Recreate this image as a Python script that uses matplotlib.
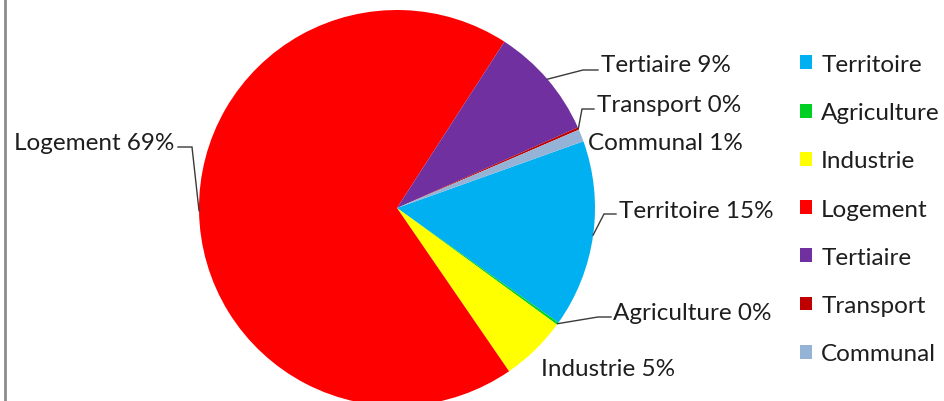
import numpy as np
import matplotlib
matplotlib.use("Agg")
import matplotlib.pyplot as plt
from matplotlib.patches import Patch
from matplotlib.lines import Line2D

categories = ["Territoire", "Agriculture", "Industrie", "Logement", "Tertiaire", "Transport", "Communal"]
values = [15.3, 0.2, 5.4, 68.7, 9.2, 0.2, 1.0]
colors = ["#00B0F0", "#00D024", "#FFFF00", "#FF0000", "#7030A0", "#C00000", "#95B3D7"]

plt.rcParams['font.family'] = ['Lato', 'DejaVu Sans']
FS = 17.5

W, H = 944, 402
fig = plt.figure(figsize=(W / 100, H / 100), dpi=100)
CX, CY, R = 397, 209, 198
ax = fig.add_axes([(CX - R) / W, (H - CY - R) / H, 2 * R / W, 2 * R / H])
ax.set_xlim(-1, 1)
ax.set_ylim(-1, 1)
ax.set_aspect('equal')
ax.axis('off')

START = 19.7
wedges, _ = ax.pie(values, colors=colors, startangle=START, counterclock=False,
                   radius=1, center=(0, 0), wedgeprops=dict(linewidth=0),
                   frame=False)
ax.set_xlim(-1, 1)
ax.set_ylim(-1, 1)

def px(x, y):
    return ((x - CX) / R, (CY - y) / R)

# label layout: (text x, text y, ha, leader elbow, leader end) in pixel space
layout = {
    "Territoire": (619, 212, 'left', (604, 215), (616, 215)),
    "Agriculture": (613, 314, 'left', (598, 318), (611, 318)),
    "Industrie": (541, 370, 'left', None, None),
    "Logement": (174, 143, 'right', (192, 148), (178, 148)),
    "Tertiaire": (601, 65, 'left', (583, 71), (598, 71)),
    "Transport": (597, 106, 'left', (582, 110), (594, 110)),
    "Communal": (588, 143, 'left', None, None),
}

for w, cat, v in zip(wedges, categories, values):
    tx, ty, ha, elbow, end = layout[cat]
    mid = np.deg2rad((w.theta1 + w.theta2) / 2)
    ex, ey = np.cos(mid), np.sin(mid)
    ax.text(*px(tx, ty), f"{cat} {round(v):d}%", ha=ha, va='center',
            fontsize=FS, color='#1e1e1e')
    if elbow is not None:
        bx, by = px(*elbow)
        qx, qy = px(*end)
        ax.plot([ex, bx, qx], [ey, by, qy], color='#3a3a3a', lw=1.0,
                solid_joinstyle='miter', clip_on=False)

handles = [Patch(facecolor=c, edgecolor='none', label=l) for c, l in zip(colors, categories)]
leg = fig.legend(handles=handles, loc='upper left', bbox_to_anchor=(800 / W, 1 - 55 / H),
                 frameon=False, fontsize=FS, handlelength=0.5, handleheight=0.5,
                 handletextpad=0.37, labelspacing=1.12, borderaxespad=0, borderpad=0)
for t in leg.get_texts():
    t.set_color('#1e1e1e')

fig.add_artist(Line2D([4.5 / W, 4.5 / W], [0, 1], color='#8c8c8c', lw=2.0,
                      transform=fig.transFigure))

fig.savefig("out.png", dpi=100)
